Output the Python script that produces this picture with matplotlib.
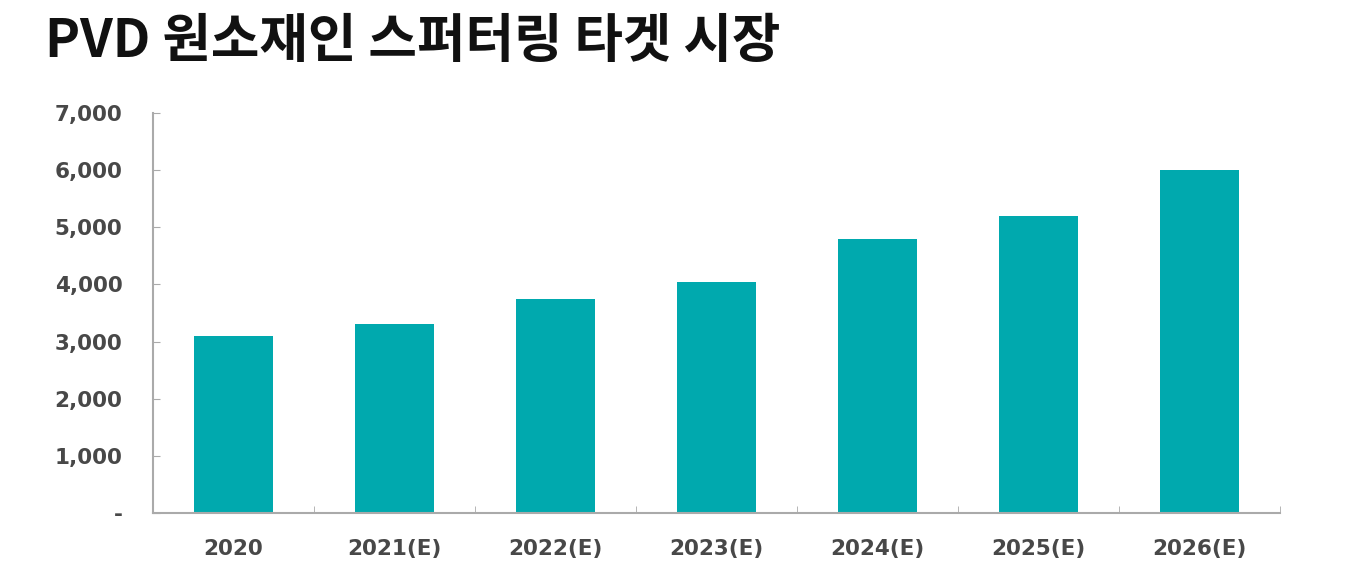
import matplotlib
matplotlib.use('Agg')
import matplotlib.pyplot as plt
from matplotlib.ticker import FixedLocator

plt.rcParams['font.family'] = ['Noto Sans CJK KR', 'DejaVu Sans']

# data
categories = ['2020', '2021(E)', '2022(E)', '2023(E)', '2024(E)', '2025(E)', '2026(E)']
values = [3100, 3300, 3750, 4050, 4800, 5200, 6000]
yticks = [0, 1000, 2000, 3000, 4000, 5000, 6000, 7000]
ytick_labels = ['-', '1,000', '2,000', '3,000', '4,000', '5,000', '6,000', '7,000']
title = 'PVD 원소재인 스퍼터링 타겟 시장'

fig = plt.figure(figsize=(13.53, 5.81), dpi=100)
ax = fig.add_axes([153 / 1353, 1 - 513 / 581, (1280 - 153) / 1353, (513 - 113) / 581])

x = range(len(categories))
ax.bar(x, values, width=0.485, color='#00a9ae')

tick_font = dict(family='DejaVu Sans', fontsize=15.5, color='#484848', fontweight='bold')

ax.set_xlim(-0.5, len(categories) - 0.5)
ax.set_ylim(0, 7000)
ax.set_xticks(list(x))
ax.set_xticklabels(categories, **tick_font)
ax.set_yticks(yticks)
ax.set_yticklabels(ytick_labels, **tick_font)

# tick marks: y ticks inside, x boundary marks as minor ticks
ax.tick_params(axis='y', direction='in', length=5, color='#aaaaaa', pad=22)
ax.tick_params(axis='x', which='major', length=0, pad=19)
ax.xaxis.set_minor_locator(FixedLocator([i + 0.5 for i in range(len(categories))]))
ax.tick_params(axis='x', which='minor', direction='in', length=5, color='#aaaaaa')

for s in ['top', 'right']:
    ax.spines[s].set_visible(False)
for s in ['left', 'bottom']:
    ax.spines[s].set_color('#aaaaaa')
    ax.spines[s].set_linewidth(1.5)

fig.text(45 / 1353, 1 - 41 / 581, title, fontsize=38, fontweight='bold',
         color='#111111', va='center', ha='left')

fig.savefig('out.png', dpi=100)
